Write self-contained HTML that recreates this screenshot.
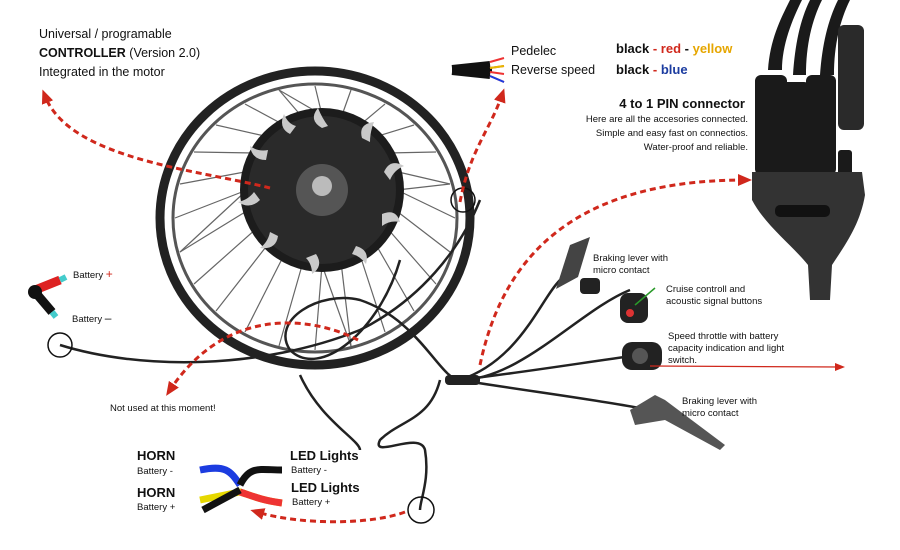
<!DOCTYPE html>
<html><head><meta charset="utf-8"><style>
body{margin:0;background:#fff}
svg{display:block}
text{font-family:"Liberation Sans",Arial,sans-serif}
</style></head><body>
<svg width="900" height="550" viewBox="0 0 900 550" xmlns="http://www.w3.org/2000/svg">
<rect width="900" height="550" fill="#fff"/>
<defs>
<marker id="ar" markerUnits="userSpaceOnUse" markerWidth="14" markerHeight="14" refX="7" refY="7" orient="auto"><path d="M0,1 L14,7 L0,13 z" fill="#d0281c"/></marker>
<marker id="ar2" markerUnits="userSpaceOnUse" markerWidth="10" markerHeight="10" refX="5" refY="5" orient="auto"><path d="M0,1 L10,5 L0,9 z" fill="#d0281c"/></marker>
</defs>
<!-- wheel -->
<ellipse cx="315" cy="218" rx="155" ry="147" fill="none" stroke="#222" stroke-width="9"/>
<ellipse cx="315" cy="218" rx="142" ry="134" fill="none" stroke="#555" stroke-width="3"/>
<g stroke="#666" stroke-width="1.2">
<line x1="397" y1="190" x2="455" y2="218"/><line x1="394" y1="209" x2="450" y2="252"/><line x1="387" y1="228" x2="436" y2="284"/><line x1="375" y1="243" x2="414" y2="311"/><line x1="360" y1="255" x2="385" y2="332"/><line x1="341" y1="262" x2="351" y2="346"/><line x1="322" y1="265" x2="315" y2="350"/><line x1="303" y1="262" x2="279" y2="346"/><line x1="284" y1="255" x2="245" y2="332"/><line x1="269" y1="243" x2="216" y2="311"/><line x1="257" y1="228" x2="194" y2="284"/><line x1="250" y1="209" x2="180" y2="252"/><line x1="247" y1="190" x2="175" y2="218"/><line x1="250" y1="171" x2="180" y2="184"/><line x1="257" y1="153" x2="194" y2="152"/><line x1="269" y1="137" x2="216" y2="125"/><line x1="284" y1="125" x2="245" y2="104"/><line x1="303" y1="118" x2="279" y2="90"/><line x1="322" y1="115" x2="315" y2="86"/><line x1="341" y1="118" x2="351" y2="90"/><line x1="360" y1="125" x2="385" y2="104"/><line x1="375" y1="137" x2="414" y2="125"/><line x1="387" y1="153" x2="436" y2="152"/><line x1="394" y1="171" x2="450" y2="184"/>
<line x1="397" y1="190" x2="450" y2="184"/><line x1="247" y1="190" x2="180" y2="252"/><line x1="322" y1="115" x2="279" y2="90"/><line x1="322" y1="265" x2="351" y2="346"/>
</g>
<circle cx="322" cy="190" r="82" fill="#1c1c1c"/>
<circle cx="322" cy="190" r="74" fill="#2a2a2a"/>
<g fill="#c9c9c9">
<path d="M322,128 q-14,-8 -4,-20 q4,10 10,18z"/>
<path d="M362,138 q-4,-14 12,-16 q-4,10 -4,20z"/>
<path d="M384,172 q6,-14 20,-6 q-10,4 -14,14z"/>
<path d="M382,214 q14,-6 18,8 q-10,-2 -18,4z"/>
<path d="M356,246 q14,4 10,18 q-6,-8 -14,-10z"/>
<path d="M316,254 q8,12 -4,20 q0,-10 -6,-16z"/>
<path d="M278,236 q-2,14 -18,12 q8,-6 10,-16z"/>
<path d="M260,200 q-10,10 -22,2 q10,-2 16,-10z"/>
<path d="M266,160 q-14,0 -16,-14 q8,6 18,4z"/>
<path d="M290,134 q-12,-6 -6,-20 q4,10 12,12z"/>
</g>
<circle cx="322" cy="190" r="26" fill="#555"/>
<circle cx="322" cy="186" r="10" fill="#bbb"/>
<!-- cables -->
<g fill="none" stroke="#222" stroke-width="2.5">
<path d="M60,345 C140,370 260,370 360,330 C420,300 460,250 480,200"/>
<path d="M400,260 C380,330 320,380 290,350 C270,320 320,290 360,300 C420,320 440,380 460,380"/>
<path d="M460,380 C520,380 580,310 630,290"/>
<path d="M460,380 C540,370 600,360 640,355"/>
<path d="M460,380 C520,390 600,400 650,410"/>
<path d="M460,380 C520,360 540,300 560,280"/>
<path d="M440,380 C430,420 400,420 380,440 C370,460 420,430 425,450 C430,480 420,500 420,510"/>
<path d="M300,375 C320,420 360,440 360,450"/>
</g>
<circle cx="60" cy="345" r="12" fill="none" stroke="#111" stroke-width="1.5"/>
<circle cx="463" cy="200" r="12" fill="none" stroke="#111" stroke-width="1.5"/>
<circle cx="421" cy="510" r="13" fill="none" stroke="#111" stroke-width="1.5"/>
<rect x="445" y="375" width="35" height="10" rx="4" fill="#222"/>
<!-- controls -->
<path d="M570,245 l20,-8 l-12,40 l-22,12z" fill="#444"/>
<rect x="580" y="278" width="20" height="16" rx="4" fill="#222"/>
<rect x="620" y="293" width="28" height="30" rx="8" fill="#222"/><circle cx="630" cy="313" r="4" fill="#d33"/>
<rect x="622" y="342" width="40" height="28" rx="10" fill="#222"/><circle cx="640" cy="356" r="8" fill="#555"/>
<path d="M630,410 l25,-15 l10,5 l60,45 l-5,5 l-55,-30 l-30,5z" fill="#555"/>
<!-- connector -->
<g fill="#1a1a1a">
<path d="M768,70 C770,40 780,20 790,0 l12,0 C792,20 782,45 782,70z"/>
<path d="M793,75 C795,45 800,20 810,0 l12,0 C812,20 806,45 806,75z"/>
<path d="M820,75 C822,45 828,20 838,0 l12,0 C840,20 834,45 834,75z"/>
<rect x="755" y="75" width="32" height="100" rx="6"/>
<rect x="780" y="82" width="30" height="95" rx="6"/>
<rect x="806" y="75" width="30" height="100" rx="6"/>
<rect x="838" y="25" width="26" height="105" rx="6" fill="#2a2a2a"/>
<rect x="838" y="150" width="14" height="30" rx="3"/>
<path d="M752,172 L862,172 L865,195 C860,225 845,245 832,265 L830,300 L810,300 L808,265 C792,245 765,225 752,200z" fill="#333"/>
<rect x="775" y="205" width="55" height="12" rx="5" fill="#111"/>
</g>
<!-- battery connector left -->
<path d="M35,290 L60,280" stroke="#d22" stroke-width="9"/>
<path d="M35,292 L52,312" stroke="#111" stroke-width="9"/>
<circle cx="35" cy="292" r="7" fill="#111"/>
<path d="M60,280 l6,-3 M52,312 l4,5" stroke="#4cc" stroke-width="6"/>
<!-- horn/led wires -->
<path d="M200,470 C225,465 230,470 240,485" stroke="#1c3ce0" stroke-width="7" fill="none"/>
<path d="M240,485 C250,465 260,470 282,470" stroke="#111" stroke-width="7" fill="none"/>
<path d="M200,500 L240,492 C250,495 260,500 282,503" stroke="#e6d800" stroke-width="7" fill="none"/>
<path d="M240,492 C250,495 260,500 282,503" stroke="#e33" stroke-width="7" fill="none"/>
<path d="M203,510 L240,490" stroke="#111" stroke-width="7" fill="none"/>
<!-- dashed red arrows -->
<g fill="none" stroke="#d0281c" stroke-width="3" stroke-dasharray="6,4" marker-end="url(#ar)">
<path d="M270,188 C200,170 70,160 45,96"/>
<path d="M460,202 C470,150 490,130 502,95"/>
<path d="M480,365 C500,270 560,180 745,180"/>
<path d="M358,340 C320,320 230,300 170,390"/>
<path d="M405,512 C370,525 300,525 257,512"/>
</g>
<line x1="650" y1="366" x2="840" y2="367" stroke="#d0281c" stroke-width="1.2" marker-end="url(#ar2)"/>
<line x1="635" y1="305" x2="655" y2="288" stroke="#2a9a2a" stroke-width="1.5"/>
<!-- pedelec wire icon -->
<path d="M452,68 L490,64 M452,70 L492,70 M452,72 L490,76" stroke="#111" stroke-width="6" fill="none"/>
<path d="M490,62 l14,-4 M490,68 l14,-2 M490,72 l14,2 M490,76 l14,6" stroke="#e33" stroke-width="2"/>
<path d="M490,68 l14,-2" stroke="#e6b800" stroke-width="2"/>
<path d="M490,76 l14,6" stroke="#1c3ce0" stroke-width="2"/>
<!-- text -->
<g font-size="12.5" fill="#111">
<text x="39" y="38">Universal / programable</text>
<text x="39" y="57" font-weight="bold">CONTROLLER <tspan font-weight="normal">(Version 2.0)</tspan></text>
<text x="39" y="76">Integrated in the motor</text>
<text x="511" y="55">Pedelec</text>
<text x="511" y="74">Reverse speed</text>
</g>
<g font-size="13" font-weight="bold">
<text x="616" y="53" fill="#111">black <tspan fill="#d0281c">- red</tspan><tspan fill="#111"> - </tspan><tspan fill="#e6a600">yellow</tspan></text>
<text x="616" y="74" fill="#111">black <tspan fill="#d0281c">-</tspan> <tspan fill="#1c3ca0">blue</tspan></text>
<text x="745" y="108" text-anchor="end" fill="#111">4 to 1 PIN connector</text>
</g>
<g font-size="9.5" fill="#111" text-anchor="end">
<text x="748" y="122">Here are all the accesories connected.</text>
<text x="748" y="136">Simple and easy fast on connectios.</text>
<text x="748" y="150">Water-proof and reliable.</text>
</g>
<g font-size="9.5" fill="#111">
<text x="593" y="261">Braking lever with</text><text x="593" y="273">micro contact</text>
<text x="666" y="292">Cruise controll and</text><text x="666" y="304">acoustic signal buttons</text>
<text x="668" y="339">Speed throttle with battery</text><text x="668" y="351">capacity indication and light</text><text x="668" y="363">switch.</text>
<text x="682" y="404">Braking lever with</text><text x="682" y="416">micro contact</text>
<text x="110" y="411">Not used at this moment!</text>
<text x="73" y="278">Battery <tspan fill="#d0281c" font-size="12">+</tspan></text>
<text x="72" y="322">Battery  <tspan font-size="12">–</tspan></text>
<text x="137" y="474">Battery -</text><text x="137" y="510">Battery +</text>
<text x="291" y="473">Battery -</text><text x="292" y="505">Battery +</text>
</g>
<g font-size="13" font-weight="bold" fill="#111">
<text x="137" y="460">HORN</text><text x="137" y="497">HORN</text>
<text x="290" y="460">LED Lights</text><text x="291" y="492">LED Lights</text>
</g>
</svg>
</body></html>
